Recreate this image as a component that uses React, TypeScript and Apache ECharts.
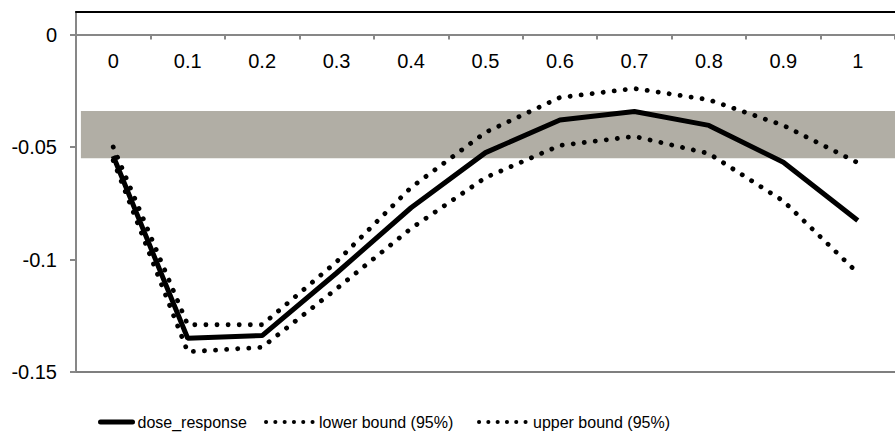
import React, { useEffect, useRef } from "react";
import * as echarts from "echarts";

const categories = ["0", "0.1", "0.2", "0.3", "0.4", "0.5", "0.6", "0.7", "0.8", "0.9", "1"];
const doseResponse = [-0.054, -0.135, -0.1338, -0.106, -0.077, -0.0525, -0.038, -0.0342, -0.0404, -0.0568, -0.0827];
const lowerBound = [-0.056, -0.141, -0.139, -0.113, -0.0862, -0.0636, -0.0493, -0.0453, -0.0529, -0.074, -0.106];
const upperBound = [-0.05, -0.129, -0.129, -0.101, -0.068, -0.0435, -0.028, -0.024, -0.029, -0.0404, -0.057];
const yTicks = [-0.15, -0.1, -0.05, 0];
const yMin = -0.15;
const yMax = 0.01;
const bandHigh = -0.034;
const bandLow = -0.055;
const bandStartX = -0.0434;
const bandEndX = 1.05;

const FONT = "'Liberation Sans', Arial, sans-serif";
const GRID_TOP = 12;
const GRID_HEIGHT = 360;

export default function App() {
  const ref = useRef<HTMLDivElement>(null);
  useEffect(() => {
    if (!ref.current) return;
    const chart = echarts.init(ref.current, undefined, { renderer: "svg" });
    const dotted = { type: [0.1, 11], width: 4.8, cap: "round" as const, color: "#000" };
    const legendBase = {
      orient: "horizontal",
      top: 409,
      itemHeight: 14,
      textStyle: { fontFamily: FONT, fontSize: 16, color: "#000" },
      itemStyle: { opacity: 0 },
      selectedMode: false,
    };
    const zeroOffset = -(GRID_HEIGHT * (0 - yMin)) / (yMax - yMin);
    chart.setOption({
      animation: false,
      backgroundColor: "#fff",
      grid: { left: 76, top: GRID_TOP, width: 829, height: GRID_HEIGHT },
      legend: [
        { ...legendBase, left: 93, itemWidth: 32, data: ["dose_response"], lineStyle: { width: 5, cap: "round" } },
        { ...legendBase, left: 259, itemWidth: 48, data: ["lower bound (95%)"], lineStyle: { width: 4, type: [0.1, 9.2], cap: "round" } },
        { ...legendBase, left: 472, itemWidth: 49, data: ["upper bound (95%)"], lineStyle: { width: 4, type: [0.1, 9.2], cap: "round" } },
      ],
      xAxis: [
        {
          type: "category",
          data: categories,
          boundaryGap: true,
          position: "bottom",
          offset: zeroOffset,
          axisLine: { onZero: false, lineStyle: { color: "#878787", width: 2 } },
          axisTick: { show: true, interval: 0, length: 5, lineStyle: { color: "#878787", width: 2 } },
          axisLabel: { interval: 0, margin: 16, fontFamily: FONT, fontSize: 20, color: "#000" },
          splitLine: { show: false },
        },
        {
          type: "value",
          position: "top",
          min: -0.05,
          max: 1.05,
          axisLine: { show: true, onZero: false, lineStyle: { color: "#000", width: 2 } },
          axisTick: { show: false },
          axisLabel: { show: false },
          splitLine: { show: false },
        },
      ],
      yAxis: {
        type: "value",
        min: yMin,
        max: yMax,
        axisLine: { show: true, onZero: false, lineStyle: { color: "#878787", width: 2 } },
        axisTick: { show: true, length: 6, customValues: yTicks, lineStyle: { color: "#878787", width: 2 } },
        axisLabel: {
          customValues: yTicks,
          margin: 19,
          fontFamily: FONT,
          fontSize: 20,
          color: "#000",
          formatter: (v: number) => String(v),
        },
        splitLine: { show: false },
      },
      series: [
        {
          name: "band",
          type: "line",
          xAxisIndex: 1,
          data: [],
          silent: true,
          markArea: {
            silent: true,
            itemStyle: { color: "#b1aea5" },
            data: [[{ coord: [bandStartX, bandHigh] }, { coord: [bandEndX, bandLow] }]],
          },
          markLine: {
            silent: true,
            symbol: "none",
            label: { show: false },
            lineStyle: { color: "#7f7f7f", width: 2, type: "solid" },
            data: [{ yAxis: yMin }],
          },
        },
        {
          name: "dose_response",
          type: "line",
          data: doseResponse,
          symbol: "none",
          lineStyle: { color: "#000", width: 5 },
          itemStyle: { color: "#000" },
          z: 5,
        },
        {
          name: "lower bound (95%)",
          type: "line",
          data: lowerBound,
          symbol: "none",
          lineStyle: dotted,
          itemStyle: { color: "#000" },
          z: 4,
        },
        {
          name: "upper bound (95%)",
          type: "line",
          data: upperBound,
          symbol: "none",
          lineStyle: dotted,
          itemStyle: { color: "#000" },
          z: 4,
        },
      ],
    });
    return () => chart.dispose();
  }, []);
  return <div ref={ref} style={{ position: "absolute", left: 0, top: 0, width: 895, height: 432 }} />;
}
